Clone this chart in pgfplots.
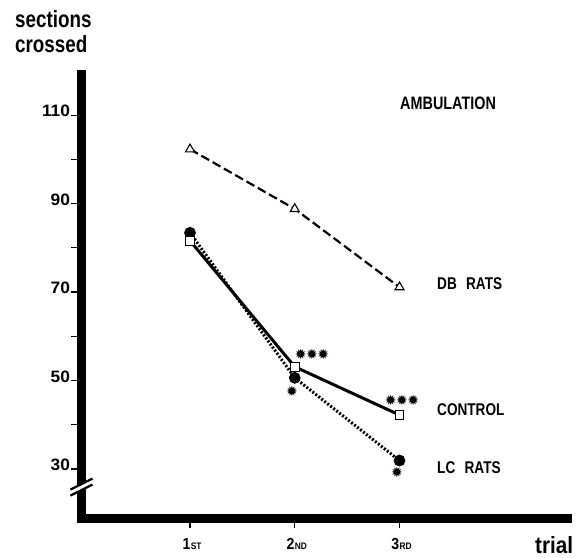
\documentclass[border=0pt]{standalone}
\usepackage{fontspec}
\setmainfont{Liberation Sans}
\newfontfamily\cond[FakeStretch=0.8]{Liberation Sans}
\newfontfamily\condb[FakeStretch=0.88]{Liberation Sans}
\newfontfamily\wide[FakeStretch=1.05]{Liberation Sans}
\newfontfamily\dejavu{DejaVu Sans}
\usepackage{pgfplots}
\pgfplotsset{compat=1.18}
\newcommand{\stars}[1]{{\dejavu\fontsize{14}{14}\selectfont #1}}
\begin{document}
\begin{tikzpicture}
\path[use as bounding box] (-81.5pt,-39pt) rectangle (498.5pt,518pt);
\begin{axis}[
  at={(0,0)}, anchor=south west, scale only axis,
  width=486pt, height=443.5pt,
  xmin=-0.036, xmax=4.604, ymin=18.9, ymax=119.2,
  axis lines=left,
  axis line style={-, line width=9pt, line cap=rect},
  tick align=outside,
  major tick length=10pt,
  tick style={line width=1.3pt, black},
  xtick={1,2,3},
  xticklabels={1\kern0.5pt{\fontsize{9.5}{9.5}\selectfont ST},2\kern0.5pt{\fontsize{9.5}{9.5}\selectfont ND},3\kern0.5pt{\fontsize{9.5}{9.5}\selectfont RD}},
  xticklabel style={font=\condb\bfseries\fontsize{16}{16}\selectfont, anchor=base, yshift=-21pt, xshift=2pt},
  ytick={30,40,...,110},
  yticklabels={30,,50,,70,,90,,110},
  yticklabel style={font=\wide\bfseries\fontsize{16.5}{16.5}\selectfont, anchor=east, yshift=4pt, xshift=2pt},
  clip=false,
]
\addplot[black, line width=3pt, dash pattern=on 2pt off 1.8pt,
  mark=*, mark size=4.3pt, mark options={solid, fill=black}]
  coordinates {(1,83.4) (2,50.6) (3,31.9)};
\addplot[black, line width=3pt,
  mark=square*, mark size=4.3pt, mark options={solid, fill=white, line width=1.1pt}]
  coordinates {(1,81.6) (2,53.1) (3,42.2)};
\addplot[black, line width=2.2pt, dash pattern=on 9pt off 4pt,
  mark=triangle*, mark size=5.2pt, mark options={solid, fill=white, line width=1.1pt}]
  coordinates {(1,102.3) (2,88.8) (3,71.1)};
\node at (axis cs:2.165,56.0) {\stars{✹\kern-0.5pt✹\kern-0.5pt✹}};
\node at (axis cs:1.974,47.6) {\stars{✹}};
\node at (axis cs:3.024,45.6) {\stars{✹\kern-0.5pt✹\kern-0.5pt✹}};
\node at (axis cs:2.976,29.1) {\stars{✹}};
\node[anchor=west, inner sep=0pt, font=\cond\bfseries\fontsize{18}{18}\selectfont] at (axis cs:3.005,112.7) {AMBULATION};
\node[anchor=west, inner sep=0pt, font=\cond\bfseries\fontsize{17}{17}\selectfont] at (axis cs:3.358,72.0) {DB\hspace{0.55em}RATS};
\node[anchor=west, inner sep=0pt, font=\cond\bfseries\fontsize{17}{17}\selectfont] at (axis cs:3.358,43.3) {CONTROL};
\node[anchor=west, inner sep=0pt, font=\cond\bfseries\fontsize{17}{17}\selectfont] at (axis cs:3.358,30.2) {LC\hspace{0.55em}RATS};
\coordinate (B) at (axis cs:-0.036,25.9);
\end{axis}
\fill[white] ([shift={(-7pt,-6.5pt)}]B) -- ([shift={(7pt,0.5pt)}]B) -- ([shift={(7pt,6.5pt)}]B) -- ([shift={(-7pt,-0.5pt)}]B) -- cycle;
\draw[line width=2.2pt] ([shift={(-11pt,-8.5pt)}]B) -- ([shift={(11pt,2.5pt)}]B);
\draw[line width=2.2pt] ([shift={(-11pt,-2.5pt)}]B) -- ([shift={(11pt,8.5pt)}]B);
\node[anchor=base west, inner sep=0pt, font=\cond\bfseries\fontsize{23.5}{23.5}\selectfont] at (-66.5pt,490pt) {sections};
\node[anchor=base west, inner sep=0pt, font=\cond\bfseries\fontsize{23.5}{23.5}\selectfont] at (-66.5pt,465pt) {crossed};
\node[anchor=base west, inner sep=0pt, font=\condb\bfseries\fontsize{23.5}{23.5}\selectfont] at (453.5pt,-35pt) {trial};
\end{tikzpicture}
\end{document}
